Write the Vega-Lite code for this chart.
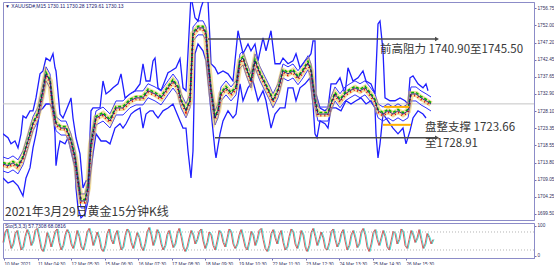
{
  "$schema": "https://vega.github.io/schema/vega-lite/v6.json",
  "padding": {"left": 0, "top": 1, "right": 0, "bottom": 0},
  "background": "white",
  "config": {
    "view": {"stroke": "#8c8cc8", "strokeWidth": 1},
    "concat": {"spacing": 1},
    "axis": {"labelFont": "Liberation Sans", "labelFontSize": 4.7, "labelColor": "#303060", "tickColor": "#7070b0", "domainColor": "#8c8cc8", "grid": false, "title": null}
  },
  "datasets": {
    "center": [
      {"b":0,"p":1713.4},{"b":15,"p":1712.9},{"b":30,"p":1713.7},{"b":45,"p":1712.6},{"b":60,"p":1715.1},{"b":75,"p":1719.8},{"b":90,"p":1724.6},{"b":105,"p":1727.3},{"b":120,"p":1733.8},{"b":129,"p":1738.5},{"b":141,"p":1736.5},{"b":150,"p":1729.0},{"b":159,"p":1724.6},{"b":174,"p":1723.4},{"b":189,"p":1723.4},{"b":204,"p":1719.8},{"b":216,"p":1715.1},{"b":225,"p":1708.7},{"b":234,"p":1703.1},{"b":246,"p":1703.1},{"b":255,"p":1706.7},{"b":264,"p":1719.0},{"b":279,"p":1726.2},{"b":300,"p":1727.3},{"b":321,"p":1725.4},{"b":339,"p":1729.0},{"b":360,"p":1729.0},{"b":381,"p":1731.0},{"b":399,"p":1731.8},{"b":420,"p":1731.8},{"b":435,"p":1733.8},{"b":456,"p":1732.9},{"b":474,"p":1731.8},{"b":495,"p":1734.6},{"b":510,"p":1736.5},{"b":525,"p":1734.6},{"b":534,"p":1731.0},{"b":549,"p":1728.2},{"b":561,"p":1731.0},{"b":570,"p":1749.6},{"b":585,"p":1751.3},{"b":600,"p":1751.3},{"b":609,"p":1749.6},{"b":615,"p":1742.1},{"b":624,"p":1733.8},{"b":636,"p":1726.2},{"b":645,"p":1728.2},{"b":654,"p":1732.9},{"b":669,"p":1734.6},{"b":684,"p":1732.9},{"b":699,"p":1734.6},{"b":711,"p":1742.1},{"b":720,"p":1742.9},{"b":729,"p":1740.2},{"b":744,"p":1736.5},{"b":756,"p":1742.1},{"b":771,"p":1738.5},{"b":786,"p":1735.7},{"b":801,"p":1732.9},{"b":810,"p":1731.0},{"b":825,"p":1733.8},{"b":840,"p":1739.3},{"b":855,"p":1738.5},{"b":870,"p":1739.3},{"b":885,"p":1737.4},{"b":900,"p":1739.3},{"b":915,"p":1741.6},{"b":924,"p":1739.3},{"b":936,"p":1731.0},{"b":945,"p":1727.3},{"b":960,"p":1727.3},{"b":975,"p":1727.3},{"b":984,"p":1730.1},{"b":996,"p":1732.9},{"b":1011,"p":1731.0},{"b":1026,"p":1732.9},{"b":1041,"p":1733.8},{"b":1056,"p":1734.6},{"b":1071,"p":1733.8},{"b":1086,"p":1734.6},{"b":1101,"p":1732.9},{"b":1116,"p":1731.0},{"b":1125,"p":1728.2},{"b":1140,"p":1727.3},{"b":1155,"p":1728.2},{"b":1170,"p":1727.3},{"b":1185,"p":1728.2},{"b":1200,"p":1727.3},{"b":1215,"p":1728.2},{"b":1224,"p":1732.9},{"b":1239,"p":1732.9},{"b":1254,"p":1731.8},{"b":1269,"p":1731.0},{"b":1284,"p":1730.1}
    ],
    "upper": [
      {"b":0,"p":1721.8},{"b":15,"p":1720.7},{"b":24,"p":1719.0},{"b":36,"p":1719.8},{"b":45,"p":1717.9},{"b":54,"p":1721.8},{"b":60,"p":1726.8},{"b":69,"p":1726.2},{"b":81,"p":1728.2},{"b":90,"p":1728.2},{"b":99,"p":1731.8},{"b":111,"p":1738.5},{"b":120,"p":1739.3},{"b":129,"p":1742.9},{"b":141,"p":1742.1},{"b":150,"p":1744.1},{"b":156,"p":1740.2},{"b":159,"p":1739.3},{"b":171,"p":1727.3},{"b":180,"p":1726.2},{"b":189,"p":1728.2},{"b":201,"p":1731.0},{"b":204,"p":1731.8},{"b":210,"p":1726.2},{"b":219,"p":1720.7},{"b":231,"p":1716.2},{"b":240,"p":1706.7},{"b":249,"p":1708.7},{"b":255,"p":1708.7},{"b":264,"p":1728.2},{"b":270,"p":1729.0},{"b":291,"p":1729.0},{"b":300,"p":1736.5},{"b":309,"p":1732.9},{"b":321,"p":1733.8},{"b":330,"p":1734.6},{"b":345,"p":1735.7},{"b":354,"p":1738.5},{"b":366,"p":1731.8},{"b":381,"p":1732.9},{"b":396,"p":1733.8},{"b":411,"p":1735.7},{"b":420,"p":1741.3},{"b":429,"p":1736.5},{"b":441,"p":1736.5},{"b":450,"p":1742.1},{"b":456,"p":1742.9},{"b":465,"p":1734.6},{"b":474,"p":1733.8},{"b":495,"p":1738.8},{"b":504,"p":1739.3},{"b":519,"p":1740.2},{"b":531,"p":1742.7},{"b":540,"p":1734.6},{"b":549,"p":1733.8},{"b":564,"p":1760.2},{"b":576,"p":1754.1},{"b":585,"p":1753.2},{"b":594,"p":1756.9},{"b":606,"p":1760.2},{"b":615,"p":1758.8},{"b":621,"p":1747.7},{"b":624,"p":1741.3},{"b":636,"p":1740.2},{"b":645,"p":1738.5},{"b":660,"p":1739.3},{"b":675,"p":1738.5},{"b":690,"p":1736.5},{"b":705,"p":1750.5},{"b":720,"p":1744.1},{"b":735,"p":1746.8},{"b":744,"p":1744.9},{"b":756,"p":1746.8},{"b":765,"p":1742.1},{"b":780,"p":1748.5},{"b":789,"p":1744.9},{"b":804,"p":1750.5},{"b":816,"p":1741.3},{"b":831,"p":1741.3},{"b":840,"p":1742.9},{"b":855,"p":1741.3},{"b":870,"p":1742.1},{"b":879,"p":1744.1},{"b":891,"p":1740.2},{"b":906,"p":1742.1},{"b":915,"p":1742.9},{"b":924,"p":1744.1},{"b":930,"p":1747.7},{"b":936,"p":1747.7},{"b":939,"p":1732.9},{"b":951,"p":1729.0},{"b":966,"p":1728.2},{"b":975,"p":1729.0},{"b":984,"p":1735.7},{"b":999,"p":1735.7},{"b":1011,"p":1737.4},{"b":1026,"p":1732.9},{"b":1035,"p":1740.2},{"b":1050,"p":1736.5},{"b":1065,"p":1737.4},{"b":1080,"p":1739.3},{"b":1089,"p":1736.5},{"b":1104,"p":1735.7},{"b":1116,"p":1732.9},{"b":1125,"p":1752.4},{"b":1131,"p":1753.2},{"b":1140,"p":1744.9},{"b":1146,"p":1731.8},{"b":1161,"p":1731.0},{"b":1176,"p":1731.0},{"b":1191,"p":1731.8},{"b":1206,"p":1731.0},{"b":1215,"p":1730.1},{"b":1221,"p":1737.4},{"b":1230,"p":1737.9},{"b":1245,"p":1735.7},{"b":1260,"p":1734.6},{"b":1269,"p":1735.7},{"b":1275,"p":1733.8}
    ],
    "lower": [
      {"b":0,"p":1709.5},{"b":15,"p":1708.1},{"b":30,"p":1708.7},{"b":45,"p":1707.3},{"b":60,"p":1704.5},{"b":69,"p":1709.5},{"b":81,"p":1712.3},{"b":90,"p":1717.9},{"b":99,"p":1721.8},{"b":111,"p":1728.2},{"b":120,"p":1729.0},{"b":129,"p":1730.1},{"b":141,"p":1730.1},{"b":150,"p":1728.2},{"b":156,"p":1721.8},{"b":159,"p":1712.9},{"b":165,"p":1717.0},{"b":171,"p":1719.8},{"b":186,"p":1719.0},{"b":195,"p":1720.7},{"b":204,"p":1717.0},{"b":216,"p":1712.3},{"b":219,"p":1706.7},{"b":225,"p":1701.2},{"b":234,"p":1698.4},{"b":246,"p":1699.5},{"b":255,"p":1703.1},{"b":261,"p":1709.5},{"b":270,"p":1716.2},{"b":279,"p":1721.8},{"b":294,"p":1719.8},{"b":309,"p":1719.8},{"b":321,"p":1719.0},{"b":336,"p":1723.4},{"b":351,"p":1724.6},{"b":360,"p":1723.4},{"b":369,"p":1724.6},{"b":384,"p":1727.3},{"b":396,"p":1728.2},{"b":411,"p":1729.0},{"b":420,"p":1723.4},{"b":429,"p":1727.3},{"b":441,"p":1728.2},{"b":450,"p":1728.2},{"b":456,"p":1727.3},{"b":465,"p":1726.2},{"b":480,"p":1728.2},{"b":495,"p":1729.0},{"b":510,"p":1730.1},{"b":531,"p":1725.4},{"b":540,"p":1723.4},{"b":549,"p":1723.4},{"b":555,"p":1717.0},{"b":564,"p":1709.5},{"b":570,"p":1717.0},{"b":576,"p":1744.1},{"b":585,"p":1746.8},{"b":600,"p":1744.9},{"b":609,"p":1742.1},{"b":615,"p":1736.5},{"b":624,"p":1728.2},{"b":636,"p":1717.0},{"b":639,"p":1715.1},{"b":651,"p":1721.8},{"b":660,"p":1725.4},{"b":675,"p":1728.2},{"b":690,"p":1726.2},{"b":699,"p":1727.3},{"b":711,"p":1735.7},{"b":720,"p":1731.0},{"b":735,"p":1734.6},{"b":750,"p":1736.5},{"b":765,"p":1731.0},{"b":780,"p":1733.8},{"b":789,"p":1731.0},{"b":804,"p":1723.4},{"b":816,"p":1727.3},{"b":831,"p":1729.0},{"b":846,"p":1729.0},{"b":855,"p":1734.6},{"b":870,"p":1734.6},{"b":879,"p":1731.0},{"b":891,"p":1734.6},{"b":906,"p":1735.7},{"b":921,"p":1737.4},{"b":930,"p":1730.1},{"b":936,"p":1721.8},{"b":942,"p":1720.7},{"b":951,"p":1725.4},{"b":966,"p":1724.6},{"b":975,"p":1723.4},{"b":984,"p":1729.0},{"b":999,"p":1729.0},{"b":1014,"p":1728.2},{"b":1029,"p":1731.0},{"b":1044,"p":1730.1},{"b":1059,"p":1731.0},{"b":1074,"p":1731.8},{"b":1089,"p":1730.1},{"b":1104,"p":1731.0},{"b":1116,"p":1729.0},{"b":1119,"p":1721.8},{"b":1125,"p":1715.1},{"b":1131,"p":1719.0},{"b":1140,"p":1727.3},{"b":1155,"p":1725.4},{"b":1170,"p":1723.4},{"b":1185,"p":1721.8},{"b":1200,"p":1723.4},{"b":1209,"p":1719.0},{"b":1221,"p":1722.6},{"b":1230,"p":1726.2},{"b":1245,"p":1728.2},{"b":1260,"p":1727.3},{"b":1269,"p":1726.2}
    ],
    "stoch": [
      {"b":0,"k":45},{"b":6,"k":80},{"b":12,"k":90},{"b":18,"k":55},{"b":24,"k":25},{"b":30,"k":40},{"b":36,"k":75},{"b":42,"k":85},{"b":48,"k":50},{"b":54,"k":20},{"b":60,"k":30},{"b":66,"k":65},
      {"b":72,"k":88},{"b":78,"k":70},{"b":84,"k":35},{"b":90,"k":50},{"b":96,"k":85},{"b":102,"k":92},{"b":108,"k":60},{"b":114,"k":25},{"b":120,"k":15},{"b":126,"k":40},{"b":132,"k":78},{"b":138,"k":60},
      {"b":144,"k":30},{"b":150,"k":55},{"b":156,"k":82},{"b":162,"k":90},{"b":168,"k":45},{"b":174,"k":20},{"b":180,"k":35},{"b":186,"k":70},{"b":192,"k":88},{"b":198,"k":75},{"b":204,"k":40},{"b":210,"k":25},
      {"b":216,"k":50},{"b":222,"k":85},{"b":228,"k":65},{"b":234,"k":30},{"b":240,"k":20},{"b":246,"k":45},{"b":252,"k":80},{"b":258,"k":92},{"b":264,"k":70},{"b":270,"k":35},{"b":276,"k":55},{"b":282,"k":80},
      {"b":288,"k":60},{"b":294,"k":25},{"b":300,"k":15},{"b":306,"k":35},{"b":312,"k":75},{"b":318,"k":90},{"b":324,"k":55},{"b":330,"k":40},{"b":336,"k":70},{"b":342,"k":85},{"b":348,"k":50},{"b":354,"k":20},
      {"b":360,"k":30},{"b":366,"k":68},{"b":372,"k":90},{"b":378,"k":80},{"b":384,"k":45},{"b":390,"k":25},{"b":396,"k":50},{"b":402,"k":78},{"b":408,"k":62},{"b":414,"k":30},{"b":420,"k":18},{"b":426,"k":42},
      {"b":432,"k":80},{"b":438,"k":95},{"b":444,"k":70},{"b":450,"k":35},{"b":456,"k":55},{"b":462,"k":88},{"b":468,"k":75},{"b":474,"k":40},{"b":480,"k":20},{"b":486,"k":35},{"b":492,"k":72},{"b":498,"k":85},
      {"b":504,"k":55},{"b":510,"k":28},{"b":516,"k":40},{"b":522,"k":75},{"b":528,"k":92},{"b":534,"k":65},{"b":540,"k":30},{"b":546,"k":15},{"b":552,"k":30},{"b":558,"k":60},{"b":564,"k":85},{"b":570,"k":70},
      {"b":576,"k":40},{"b":582,"k":55},{"b":588,"k":82},{"b":594,"k":90},{"b":600,"k":50},{"b":606,"k":25},{"b":612,"k":45},{"b":618,"k":80},{"b":624,"k":70},{"b":630,"k":35},{"b":636,"k":20},{"b":642,"k":50},
      {"b":648,"k":85},{"b":654,"k":75},{"b":660,"k":45},{"b":666,"k":30},{"b":672,"k":60},{"b":678,"k":90},{"b":684,"k":80},{"b":690,"k":40},{"b":696,"k":25},{"b":702,"k":40},{"b":708,"k":70},{"b":714,"k":88},
      {"b":720,"k":60},{"b":726,"k":30},{"b":732,"k":20},{"b":738,"k":48},{"b":744,"k":82},{"b":750,"k":70},{"b":756,"k":35},{"b":762,"k":55},{"b":768,"k":85},{"b":774,"k":92},{"b":780,"k":55},{"b":786,"k":25},
      {"b":792,"k":15},{"b":798,"k":35},{"b":804,"k":75},{"b":810,"k":88},{"b":816,"k":60},{"b":822,"k":40},{"b":828,"k":70},{"b":834,"k":85},{"b":840,"k":45},{"b":846,"k":20},{"b":852,"k":30},{"b":858,"k":65},
      {"b":864,"k":90},{"b":870,"k":80},{"b":876,"k":40},{"b":882,"k":25},{"b":888,"k":50},{"b":894,"k":85},{"b":900,"k":70},{"b":906,"k":30},{"b":912,"k":15},{"b":918,"k":35},{"b":924,"k":78},{"b":930,"k":92},
      {"b":936,"k":65},{"b":942,"k":35},{"b":948,"k":55},{"b":954,"k":80},{"b":960,"k":60},{"b":966,"k":25},{"b":972,"k":20},{"b":978,"k":45},{"b":984,"k":82},{"b":990,"k":90},{"b":996,"k":55},{"b":1002,"k":30},
      {"b":1008,"k":45},{"b":1014,"k":75},{"b":1020,"k":88},{"b":1026,"k":50},{"b":1032,"k":20},{"b":1038,"k":35},{"b":1044,"k":70},{"b":1050,"k":85},{"b":1056,"k":60},{"b":1062,"k":28},{"b":1068,"k":40},{"b":1074,"k":80},
      {"b":1080,"k":92},{"b":1086,"k":70},{"b":1092,"k":30},{"b":1098,"k":15},{"b":1104,"k":40},{"b":1110,"k":78},{"b":1116,"k":88},{"b":1122,"k":55},{"b":1128,"k":35},{"b":1134,"k":60},{"b":1140,"k":85},{"b":1146,"k":65},
      {"b":1152,"k":30},{"b":1158,"k":20},{"b":1164,"k":50},{"b":1170,"k":82},{"b":1176,"k":75},{"b":1182,"k":40},{"b":1188,"k":55},{"b":1194,"k":90},{"b":1200,"k":80},{"b":1206,"k":35},{"b":1212,"k":25},{"b":1218,"k":55},
      {"b":1224,"k":85},{"b":1230,"k":70},{"b":1236,"k":45},{"b":1242,"k":60},{"b":1248,"k":88},{"b":1254,"k":55},{"b":1260,"k":25},{"b":1266,"k":40},{"b":1272,"k":75},{"b":1278,"k":62},{"b":1284,"k":40},{"b":1290,"k":55}
    ]
  },
  "vconcat": [
    {
      "width": 531,
      "height": 218,
      "encoding": {
        "x": {"field": "b", "type": "quantitative", "scale": {"domain": [0, 1593], "nice": false, "zero": false}, "axis": null},
        "y": {"field": "p", "type": "quantitative", "scale": {"domain": [1697.8, 1758.5], "nice": false, "zero": false},
              "axis": {"orient": "right", "title": null, "values": [1699.5, 1704.25, 1709.05, 1713.8, 1718.55, 1723.35, 1728.1, 1732.9, 1737.65, 1742.45, 1747.2, 1752, 1756.75], "format": ".2f", "tickSize": 2, "labelPadding": 1, "labelOverlap": false}}
      },
      "layer": [
        {"data": {"values": [{"b": 0, "p": 1730.13}, {"b": 1593, "p": 1730.13}]}, "mark": {"type": "line", "color": "#c4c4c4", "strokeWidth": 1, "clip": true}},
        {"data": {"name": "upper"}, "mark": {"type": "line", "color": "#1f1fff", "strokeWidth": 1.3, "clip": true}},
        {"data": {"name": "lower"}, "mark": {"type": "line", "color": "#1f1fff", "strokeWidth": 1.3, "clip": true}},
        {"data": {"name": "center"}, "mark": {"type": "line", "color": "#3030ff", "strokeWidth": 1, "yOffset": -7, "clip": true}},
        {"data": {"name": "center"}, "mark": {"type": "line", "color": "#3030ff", "strokeWidth": 1, "yOffset": 7, "clip": true}},
        {"data": {"name": "center"}, "mark": {"type": "line", "color": "#e8c040", "strokeWidth": 6, "opacity": 0.5, "clip": true}},
        {"data": {"name": "center"}, "mark": {"type": "line", "color": "#00b400", "strokeWidth": 1.5, "yOffset": -1.5, "strokeDash": [3, 2], "clip": true}},
        {"data": {"name": "center"}, "mark": {"type": "line", "color": "#e00000", "strokeWidth": 2, "strokeDash": [1, 3], "yOffset": 1.5, "clip": true}},
        {"data": {"name": "center"}, "mark": {"type": "line", "color": "#000090", "strokeWidth": 0.8, "clip": true}},
        {"data": {"values": [{"b": 1143, "p": 1729.3, "g": "a"}, {"b": 1218, "p": 1729.3, "g": "a"}, {"b": 1140, "p": 1724.3, "g": "b"}, {"b": 1224, "p": 1724.3, "g": "b"}]},
         "mark": {"type": "line", "color": "#ffb000", "strokeWidth": 2}, "encoding": {"detail": {"field": "g"}}},
        {"data": {"values": [{"b": 615, "p": 1748.2, "g": "a"}, {"b": 1300, "p": 1748.2, "g": "a"}, {"b": 636, "p": 1720.7, "g": "b"}, {"b": 1300, "p": 1720.7, "g": "b"}]},
         "mark": {"type": "line", "color": "#4a4a4a", "strokeWidth": 1.5}, "encoding": {"detail": {"field": "g"}}},
        {"data": {"values": [{"b": 1302, "p": 1748.2}, {"b": 1302, "p": 1720.7}]},
         "mark": {"type": "point", "shape": "triangle-right", "filled": true, "color": "#4a4a4a", "size": 22, "opacity": 1}},
        {"data": {"values": [{"b": 1131, "p": 1745.2, "t": "前高阻力 1740.90至1745.50"}, {"b": 1266, "p": 1723.4, "t": "盘整支撑 1723.66"}, {"b": 1266, "p": 1719.0, "t": "至1728.91"}]},
         "mark": {"type": "text", "align": "left", "baseline": "middle", "font": "Noto Sans CJK SC", "fontSize": 11.5, "color": "#383838"},
         "encoding": {"text": {"field": "t"}}},
        {"data": {"values": [{"b": 6, "p": 1700.0, "t": "2021年3月29日黄金15分钟K线"}]},
         "mark": {"type": "text", "align": "left", "baseline": "middle", "font": "Noto Sans CJK SC", "fontSize": 12, "color": "#383838"},
         "encoding": {"text": {"field": "t"}}},
        {"data": {"values": [{"b": 6, "p": 1757.4, "t": "▼ XAUUSD#,M15  1730.11 1730.28 1729.61 1730.13"}]},
         "mark": {"type": "text", "align": "left", "baseline": "middle", "font": "Liberation Sans", "fontSize": 5, "color": "#202070"},
         "encoding": {"text": {"field": "t"}}},
        {"data": {"values": [{"p1": 1731.3, "p2": 1728.95}]},
         "mark": {"type": "rect", "color": "#000080", "x2Offset": 21},
         "encoding": {"x": {"datum": 1593}, "x2": {"datum": 1593}, "y": {"field": "p1", "type": "quantitative", "title": null}, "y2": {"field": "p2"}}},
        {"data": {"values": [{"p": 1730.13, "t": "1730.13"}]},
         "mark": {"type": "text", "align": "left", "baseline": "middle", "dx": 3, "font": "Liberation Sans", "fontSize": 4.7, "color": "white"},
         "encoding": {"x": {"datum": 1593}, "text": {"field": "t"}}}
      ]
    },
    {
      "width": 531,
      "height": 35,
      "layer": [
        {"data": {"values": [{"v": 20}, {"v": 80}]},
         "mark": {"type": "rule", "color": "#a0a0a0", "strokeDash": [1, 2], "strokeWidth": 0.8},
         "encoding": {"y": {"field": "v", "type": "quantitative", "scale": {"domain": [-6.7, 110], "nice": false, "zero": false},
                            "axis": {"orient": "right", "values": [0, 20, 80, 100], "title": null, "tickSize": 2, "labelPadding": 1, "labelOverlap": false}}}},
        {"data": {"name": "stoch"},
         "mark": {"type": "line", "color": "#40e0d8", "strokeWidth": 1, "xOffset": 1},
         "encoding": {"x": {"field": "b", "type": "quantitative", "scale": {"domain": [0, 1593], "nice": false, "zero": false},
                            "axis": {"values": [3, 103.5, 204, 304.5, 405, 505.5, 606, 706.5, 807, 907.5, 1008, 1108.5, 1209], "title": null, "labelAlign": "left", "labelFlush": false, "labelOverlap": false, "tickSize": 2, "labelPadding": 1,
                                     "labelExpr": "['10 Mar 2021','11 Mar 04:30','12 Mar 05:30','15 Mar 06:30','16 Mar 07:30','17 Mar 08:30','18 Mar 09:30','19 Mar 10:30','22 Mar 11:30','23 Mar 12:30','24 Mar 13:30','25 Mar 14:30','26 Mar 15:30'][round((datum.value-3)/100.5)]"}},
                      "y": {"field": "k", "type": "quantitative", "title": null}}},
        {"data": {"name": "stoch"},
         "mark": {"type": "line", "color": "#d84848", "strokeWidth": 0.9},
         "encoding": {"x": {"field": "b", "type": "quantitative", "title": null}, "y": {"field": "k", "type": "quantitative", "title": null}}},
        {"data": {"values": [{"b": 6, "k": 100, "t": "Sto(5,3,3) 57.7308 68.0816"}]},
         "mark": {"type": "text", "align": "left", "baseline": "middle", "font": "Liberation Sans", "fontSize": 5, "color": "#202070"},
         "encoding": {"x": {"field": "b", "type": "quantitative", "title": null}, "y": {"field": "k", "type": "quantitative", "title": null}, "text": {"field": "t"}}}
      ]
    }
  ]
}
